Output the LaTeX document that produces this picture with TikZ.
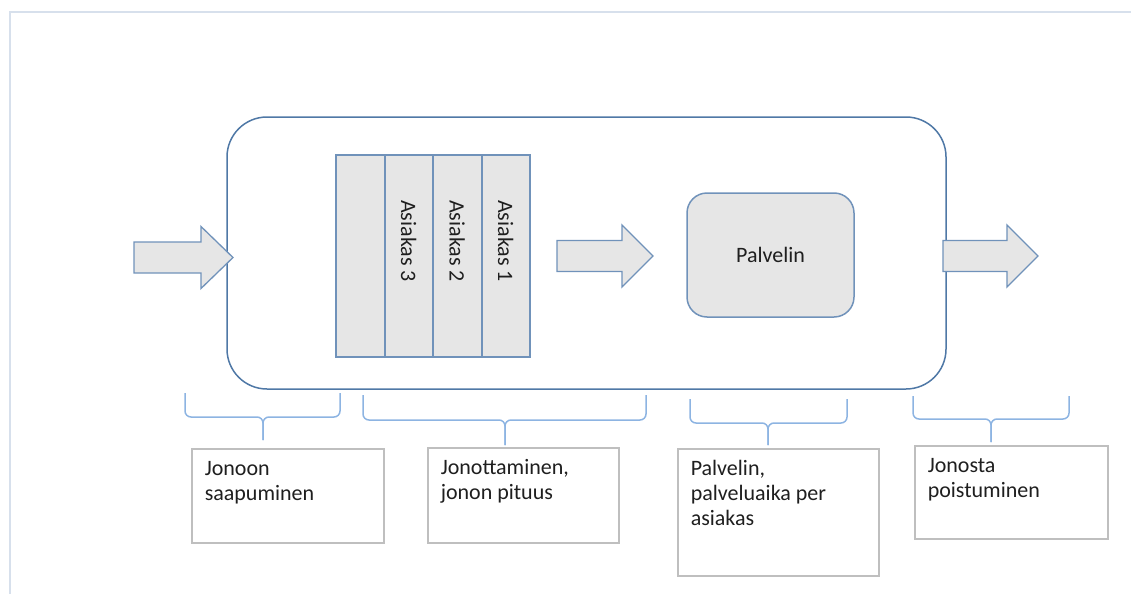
\documentclass[tikz,border=0pt]{standalone}
\usepackage{fontspec}
\setmainfont{Carlito}
\usepackage{tikz}

\definecolor{jonoblue}{RGB}{79,120,166}
\definecolor{stackblue}{RGB}{112,146,186}
\definecolor{fillgray}{RGB}{230,230,230}
\definecolor{braceblue}{RGB}{141,180,226}
\definecolor{boxgray}{RGB}{191,191,191}
\definecolor{framecol}{RGB}{215,224,236}

\newcommand{\boxtxt}[3]{\parbox[t][#2][t]{#1}{\strut #3}}

\tikzset{
  jono/.style={draw=jonoblue, line width=1.5pt, rounded corners=40pt,
    minimum width=719pt, minimum height=272pt},
  asiakas/.style={draw=stackblue, line width=2pt, fill=fillgray,
    minimum width=202pt, minimum height=48.5pt, inner sep=0pt},
  palvelin/.style={draw=stackblue, line width=1.5pt, fill=fillgray,
    rounded corners=20pt, minimum width=167pt, minimum height=124pt},
  blockarrow/.style={draw=stackblue, line width=1.3pt, fill=fillgray, line join=miter},
  bracket/.style={draw=braceblue, line width=1.5pt, rounded corners=6pt},
  infobox/.style={draw=boxgray, line width=1.5pt, fill=white, anchor=north west,
    inner xsep=13pt, inner ysep=9.5pt}
}

\begin{document}
\begin{tikzpicture}[x=1pt, y=-1pt, font=\fontsize{22}{25}\selectfont, text=black!88]
        \useasboundingbox (0,0) rectangle (1131,594);

        % Kehys
        \draw[framecol, line width=1.5pt] (10,594) -- (10,12) -- (1131,12);

        % Jonojärjestelmä
        \node[jono] (jono) at (586.5,253) {};

        % Asiakkaat jonossa
        \foreach \i/\txt in {0/{}, 1/Asiakas 3, 2/Asiakas 2, 3/Asiakas 1}
            \node[asiakas, rotate=-90] (as\i) at ({360.25+48.5*\i},256) {\txt\hspace*{30pt}};

        % Palvelin
        \node[palvelin] (palvelin) at (770.5,255) {Palvelin};

        % Nuolet
        \foreach \x/\l/\tip/\y in {134/67/32/257.5, 557/65/31/256, 943/64/31/256}
            \draw[blockarrow] ({\x},{\y-15.5}) -- ++(\l,0) -- ++(0,-15.5) -- ++(\tip,31)
                -- ++(-\tip,31) -- ++(0,-15.5) -- ++(-\l,0) -- cycle;

        % Sulkeet
        \foreach \a/\m/\b/\t/\h/\p in {185/263/340/393/417/440, 363/505/646/395/420/445,
                                        690/768/847/399/423/445, 913/991/1069/396/419/442}
        {
            \draw[bracket] (\a,\t) -- (\a,\h) -- (\m,\h) -- (\m,\p);
            \draw[bracket] (\m,\p) -- (\m,\h) -- (\b,\h) -- (\b,\t);
        }

        % Selitteet
        \node[infobox] (saapuminen) at (191,448) {\boxtxt{166pt}{75pt}{Jonoon\\saapuminen}};
        \node[infobox] (jonotus) at (427,447) {\boxtxt{165pt}{76pt}{Jonottaminen,\\jonon pituus}};
        \node[infobox] (palvelu) at (677,448) {\boxtxt{175pt}{108pt}{Palvelin,\\palveluaika per\\asiakas}};
        \node[infobox] (poistuminen) at (914,445) {\boxtxt{167pt}{74pt}{Jonosta\\poistuminen}};
    \end{tikzpicture}
\end{document}
